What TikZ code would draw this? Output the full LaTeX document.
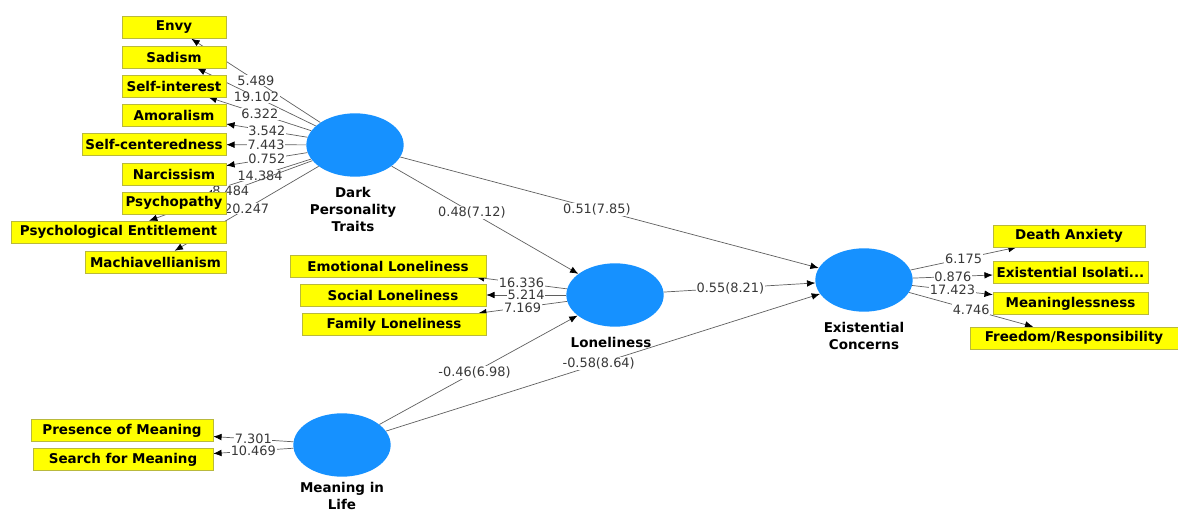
\documentclass[tikz,border=0pt]{standalone}
\usepackage{fontspec}
\setmainfont{DejaVu Sans}
\usetikzlibrary{arrows.meta,shapes.geometric,positioning}
\definecolor{Latent}{RGB}{22,145,255}
\definecolor{Item}{RGB}{255,255,0}
\definecolor{ItemLine}{RGB}{185,185,60}
\definecolor{Path}{RGB}{95,95,95}
\pgfdeclarelayer{background}
\pgfsetlayers{background,main}

\begin{document}
\begin{tikzpicture}[
    x=0.03cm, y=-0.03cm,
    latent/.style={ellipse, fill=Latent, minimum width=2.92cm, minimum height=1.9cm, inner sep=0pt},
    latentlabel/.style={font={\bfseries\fontsize{11.5}{14.5}\selectfont}, align=center},
    item/.style={draw=ItemLine, fill=Item, rectangle, minimum height=0.66cm, inner sep=0pt,
      font={\bfseries\fontsize{11.5}{14}\selectfont}},
    load/.style={draw=Path, line width=0.6pt, -{Latex[length=2.5mm,width=2mm,color=black]}},
    coef/.style={fill=white, inner sep=0.6pt, text=black!78, font={\fontsize{11}{13}\selectfont}}
  ]
  \useasboundingbox (0,0) rectangle (1178,514);

  % latent variables
  \node[latent] (dark) at (355,145) {};
  \node[latentlabel] (darklabel) at (353,209) {Dark\\Personality\\Traits};
  \node[latent] (lone) at (615,295) {};
  \node[latentlabel] (lonelabel) at (611,342) {Loneliness};
  \node[latent] (mil) at (342,445) {};
  \node[latentlabel] (millabel) at (342,496) {Meaning in\\Life};
  \node[latent] (exist) at (864,280) {};
  \node[latentlabel] (existlabel) at (864,336) {Existential\\Concerns};

  % indicators of dark personality traits
  \node[item, minimum width=3.12cm] (envy) at (174,27.5) {Envy};
  \node[item, minimum width=3.12cm] (sadism) at (174,57) {Sadism};
  \node[item, minimum width=3.12cm] (selfint) at (174,86) {Self-interest};
  \node[item, minimum width=3.12cm] (amoral) at (174,115.5) {Amoralism};
  \node[item, minimum width=4.32cm] (selfcent) at (154,144.5) {Self-centeredness};
  \node[item, minimum width=3.12cm] (narc) at (174,174) {Narcissism};
  \node[item, minimum width=3.12cm] (psycho) at (174,203) {Psychopathy};
  \node[item, minimum width=6.45cm] (entitle) at (118.5,232) {Psychological Entitlement};
  \node[item, minimum width=4.23cm] (mach) at (155.5,262) {Machiavellianism};

  % indicators of loneliness
  \node[item, minimum width=5.88cm] (emo) at (388,266) {Emotional Loneliness};
  \node[item, minimum width=5.58cm] (social) at (393,295) {Social Loneliness};
  \node[item, minimum width=5.52cm] (family) at (394,324.5) {Family Loneliness};

  % indicators of meaning in life
  \node[item, minimum width=5.46cm] (presence) at (122,430.5) {Presence of Meaning};
  \node[item, minimum width=5.4cm] (search) at (123,459.5) {Search for Meaning};

  % indicators of existential concerns
  \node[item, minimum width=4.56cm] (death) at (1069,236) {Death Anxiety};
  \node[item, minimum width=4.65cm] (isol) at (1070.5,272) {Existential Isolati...};
  \node[item, minimum width=4.65cm] (meanless) at (1070.5,303.5) {Meaninglessness};
  \node[item, minimum width=6.24cm] (freedom) at (1074,338) {Freedom/Responsibility};

  \begin{pgfonlayer}{background}
    % outer loadings
    \draw[load] (dark) -- (envy) node[coef, midway] {5.489};
    \draw[load] (dark) -- (sadism) node[coef, midway] {19.102};
    \draw[load] (dark) -- (selfint) node[coef, midway] {6.322};
    \draw[load] (dark) -- (amoral) node[coef, midway] {3.542};
    \draw[load] (dark) -- (selfcent) node[coef, midway] {7.443};
    \draw[load] (dark) -- (narc) node[coef, midway] {0.752};
    \draw[load] (dark) -- (psycho) node[coef, midway] {14.384};
    \draw[load] (dark) -- (entitle) node[coef, midway] {8.484};
    \draw[load] (dark) -- (mach) node[coef, midway] {20.247};

    \draw[load] (lone) -- (emo) node[coef, midway] {16.336};
    \draw[load] (lone) -- (social) node[coef, midway] {5.214};
    \draw[load] (lone) -- (family) node[coef, midway] {7.169};

    \draw[load] (mil) -- (presence) node[coef, midway] {7.301};
    \draw[load] (mil) -- (search) node[coef, midway] {10.469};

    \draw[load] (exist) -- (death) node[coef, midway] {6.175};
    \draw[load] (exist) -- (isol) node[coef, midway] {0.876};
    \draw[load] (exist) -- (meanless) node[coef, midway] {17.423};
    \draw[load] (exist) -- (freedom) node[coef, midway] {4.746};

    % path coefficients
    \draw[load] (dark) -- (lone) node[coef, pos=0.43] {0.48(7.12)};
    \draw[load] (dark) -- (exist) node[coef, pos=0.47] {0.51(7.85)};
    \draw[load] (lone) -- (exist) node[coef, pos=0.44] {0.55(8.21)};
    \draw[load] (mil) -- (lone) node[coef, pos=0.48] {-0.46(6.98)};
    \draw[load] (mil) -- (exist) node[coef, pos=0.49] {-0.58(8.64)};
  \end{pgfonlayer}
\end{tikzpicture}
\end{document}
